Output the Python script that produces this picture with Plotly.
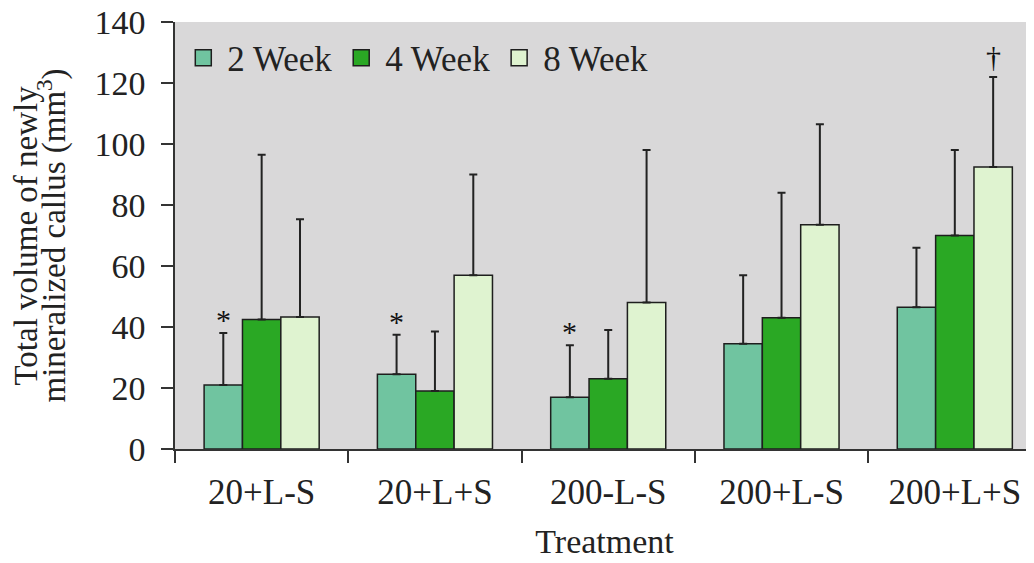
import plotly.graph_objects as go

categories = ["20+L-S", "20+L+S", "200-L-S", "200+L-S", "200+L+S"]
series_names = ["2 Week", "4 Week", "8 Week"]
wk2 = [21, 24.5, 17, 34.5, 46.5]
wk2_err = [17, 13, 17, 22.5, 19.5]
wk4 = [42.5, 19, 23, 43, 70]
wk4_err = [54, 19.5, 16, 41, 28]
wk8 = [43.3, 57, 48, 73.5, 92.5]
wk8_err = [32, 33, 50, 33, 29.5]
colors = ["#70c4a0", "#2aa824", "#dff3d0"]
y_ticks = [0, 20, 40, 60, 80, 100, 120, 140]
# significance marks: (series index, category index, symbol)
marks = [(0, 0, "*"), (0, 1, "*"), (0, 2, "*"), (2, 4, "\u2020")]

FONT = "Liberation Serif"
values = [wk2, wk4, wk8]
errs = [wk2_err, wk4_err, wk8_err]
mark_shift = {"*": -5, "\u2020": 2}

fig = go.Figure()
for name, v, e, c in zip(series_names, values, errs, colors):
    fig.add_trace(go.Bar(
        x=categories, y=v, name=name, showlegend=False,
        marker=dict(color=c, line=dict(color="#1e1e1e", width=1.5)),
        error_y=dict(type="data", array=e, arrayminus=[0] * len(e), symmetric=False,
                     color="#222222", thickness=2, width=4),
    ))
# legend entries
for name, c in zip(series_names, colors):
    fig.add_trace(go.Scatter(
        x=[None], y=[None], mode="markers", name=name,
        marker=dict(symbol="square", size=16, color=c, line=dict(color="#1e1e1e", width=1.5)),
    ))

bargap = 0.336
bw = (1 - bargap) / 3
for s, ci, sym in marks:
    fig.add_annotation(
        x=ci + (s - 1) * bw, y=values[s][ci] + errs[s][ci], xref="x", yref="y",
        text=sym, showarrow=False, yanchor="bottom", yshift=mark_shift[sym],
        font=dict(family=FONT, size=30, color="#111"),
    )

# y-axis title, two lines
fig.add_annotation(x=0, y=0.5, xref="paper", yref="paper", text="Total volume of newly",
                   textangle=-90, showarrow=False, xanchor="center", yanchor="middle", xshift=-150,
                   font=dict(family=FONT, size=33, color="#222"))
fig.add_annotation(x=0, y=0.5, xref="paper", yref="paper", text="mineralized callus (mm<sup>3</sup>)",
                   textangle=-90, showarrow=False, xanchor="center", yanchor="middle", xshift=-123,
                   font=dict(family=FONT, size=33, color="#222"))

# page body has an 8px margin, so offset the figure margins to place the plot area
fig.update_layout(
    width=1034, height=563,
    margin=dict(l=167, r=8, t=14, b=122),
    paper_bgcolor="white", plot_bgcolor="#d9d8d9",
    barmode="group", bargap=bargap, bargroupgap=0,
    font=dict(family=FONT, size=34, color="#222"),
    legend=dict(orientation="h", x=0.005, y=0.985, xanchor="left", yanchor="top",
                bgcolor="rgba(0,0,0,0)", font=dict(family=FONT, size=35, color="#222"),
                itemwidth=38, tracegroupgap=0),
    xaxis=dict(
        type="category", range=[-0.5, 4.457], tickson="boundaries", automargin=False,
        ticks="outside", ticklen=12, tickcolor="#333", tickwidth=1.5,
        showline=True, linecolor="#333", linewidth=1.5, showgrid=False,
        tickfont=dict(family=FONT, size=35, color="#222"), ticklabelstandoff=11,
        ticklabeloverflow="allow",
        title=dict(text="Treatment", font=dict(family=FONT, size=34, color="#222"), standoff=18),
    ),
    yaxis=dict(
        range=[0, 140], tickvals=y_ticks, ticks="outside", ticklen=12, tickcolor="#333",
        tickwidth=1.5, showline=True, linecolor="#333", linewidth=1.5, showgrid=False,
        zeroline=False, tickfont=dict(family=FONT, size=34, color="#222"),
        ticklabelstandoff=9, automargin=False, ticklabeloverflow="allow",
    ),
)

fig.write_html("out.html")
